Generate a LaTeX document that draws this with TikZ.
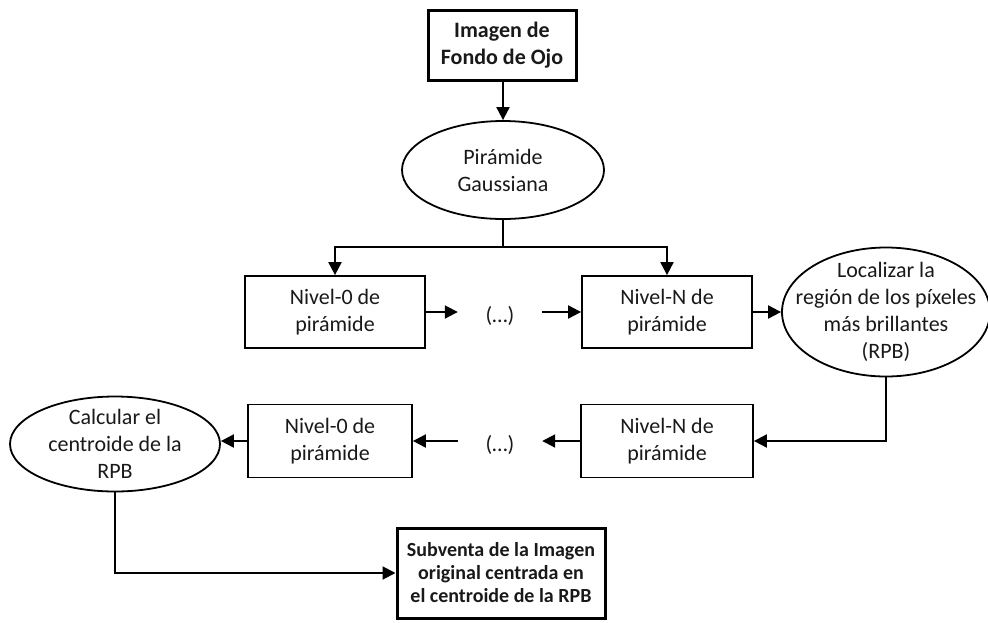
\documentclass[tikz,border=0pt]{standalone}
\usepackage{fontspec}
\setmainfont{Carlito}
\usetikzlibrary{shapes.geometric,arrows.meta,calc}
\begin{document}
\begin{tikzpicture}[x=1pt,y=-1pt,
  every node/.style={font=\fontsize{22}{27}\selectfont, align=center, inner sep=0pt, text=black!90},
  box/.style={draw, rectangle, line width=1.8pt},
  keybox/.style={draw, rectangle, line width=3pt, font=\bfseries\fontsize{22}{27.5}\selectfont},
  % the ellipse keeps its given size; its text is set as a centred label
  oval/.style={draw, ellipse, line width=1.8pt, label={[align=center]center:#1}},
  plain/.style={line width=2pt},
  link/.style={line width=2pt, -{Triangle[length=13pt,width=13pt]}}
]
\useasboundingbox (0,0) rectangle (988,622);

% input and Gaussian pyramid
\node[keybox, minimum width=148pt, minimum height=70pt] (img) at (502,45) {Imagen de\\Fondo de Ojo};
\node[oval={Pirámide\\Gaussiana}, minimum width=202pt, minimum height=98pt] (gauss) at (503,170) {};

% top pyramid row
\node[box, minimum width=180pt, minimum height=72pt] (n0a) at (335,312) {Nivel-0 de\\pirámide};
\node[minimum width=84pt, minimum height=30pt] (dotsA) at (500,316) {(…)};
\node[box, minimum width=170pt, minimum height=72pt] (nNa) at (667,312) {Nivel-N de\\pirámide};
\node[oval={Localizar la\\región de los píxeles\\más brillantes\\(RPB)}, minimum width=208pt, minimum height=129pt] (rpb) at (886,312) {};

% bottom pyramid row
\node[box, minimum width=172pt, minimum height=73pt] (nNb) at (667,441) {Nivel-N de\\pirámide};
\node[minimum width=84pt, minimum height=30pt] (dotsB) at (500,445) {(…)};
\node[box, minimum width=164pt, minimum height=73pt] (n0b) at (330,441) {Nivel-0 de\\pirámide};
\node[oval={Calcular el\\centroide de la\\RPB}, minimum width=210pt, minimum height=95pt] (cent) at (115,444) {};

% result
\node[keybox, font=\bfseries\fontsize{20}{23}\selectfont, minimum width=208pt, minimum height=90pt] (sub) at (501,573) {Subventa de la Imagen\\original centrada en\\el centroide de la RPB};

% connectors
\coordinate (fork) at (503,247);
\draw[link] (img.south -| gauss.north) -- (gauss.north);
\draw[plain] (gauss.south) -- (fork);
\draw[link] (fork) -| (n0a.north);
\draw[link] (fork) -| (nNa.north);
\draw[link] (n0a.east) -- (n0a.east -| dotsA.west);
\draw[link] (dotsA.east |- nNa.west) -- (nNa.west);
\draw[link] (nNa.east) -- (rpb.west);
\draw[link] (rpb.south) |- (nNb.east);
\draw[link] (nNb.west) -- (nNb.west -| dotsB.east);
\draw[link] (dotsB.west |- n0b.east) -- (n0b.east);
\draw[link] (n0b.west) -- (n0b.west -| cent.east);
\draw[link] (cent.south) |- (sub.west);
\end{tikzpicture}
\end{document}
